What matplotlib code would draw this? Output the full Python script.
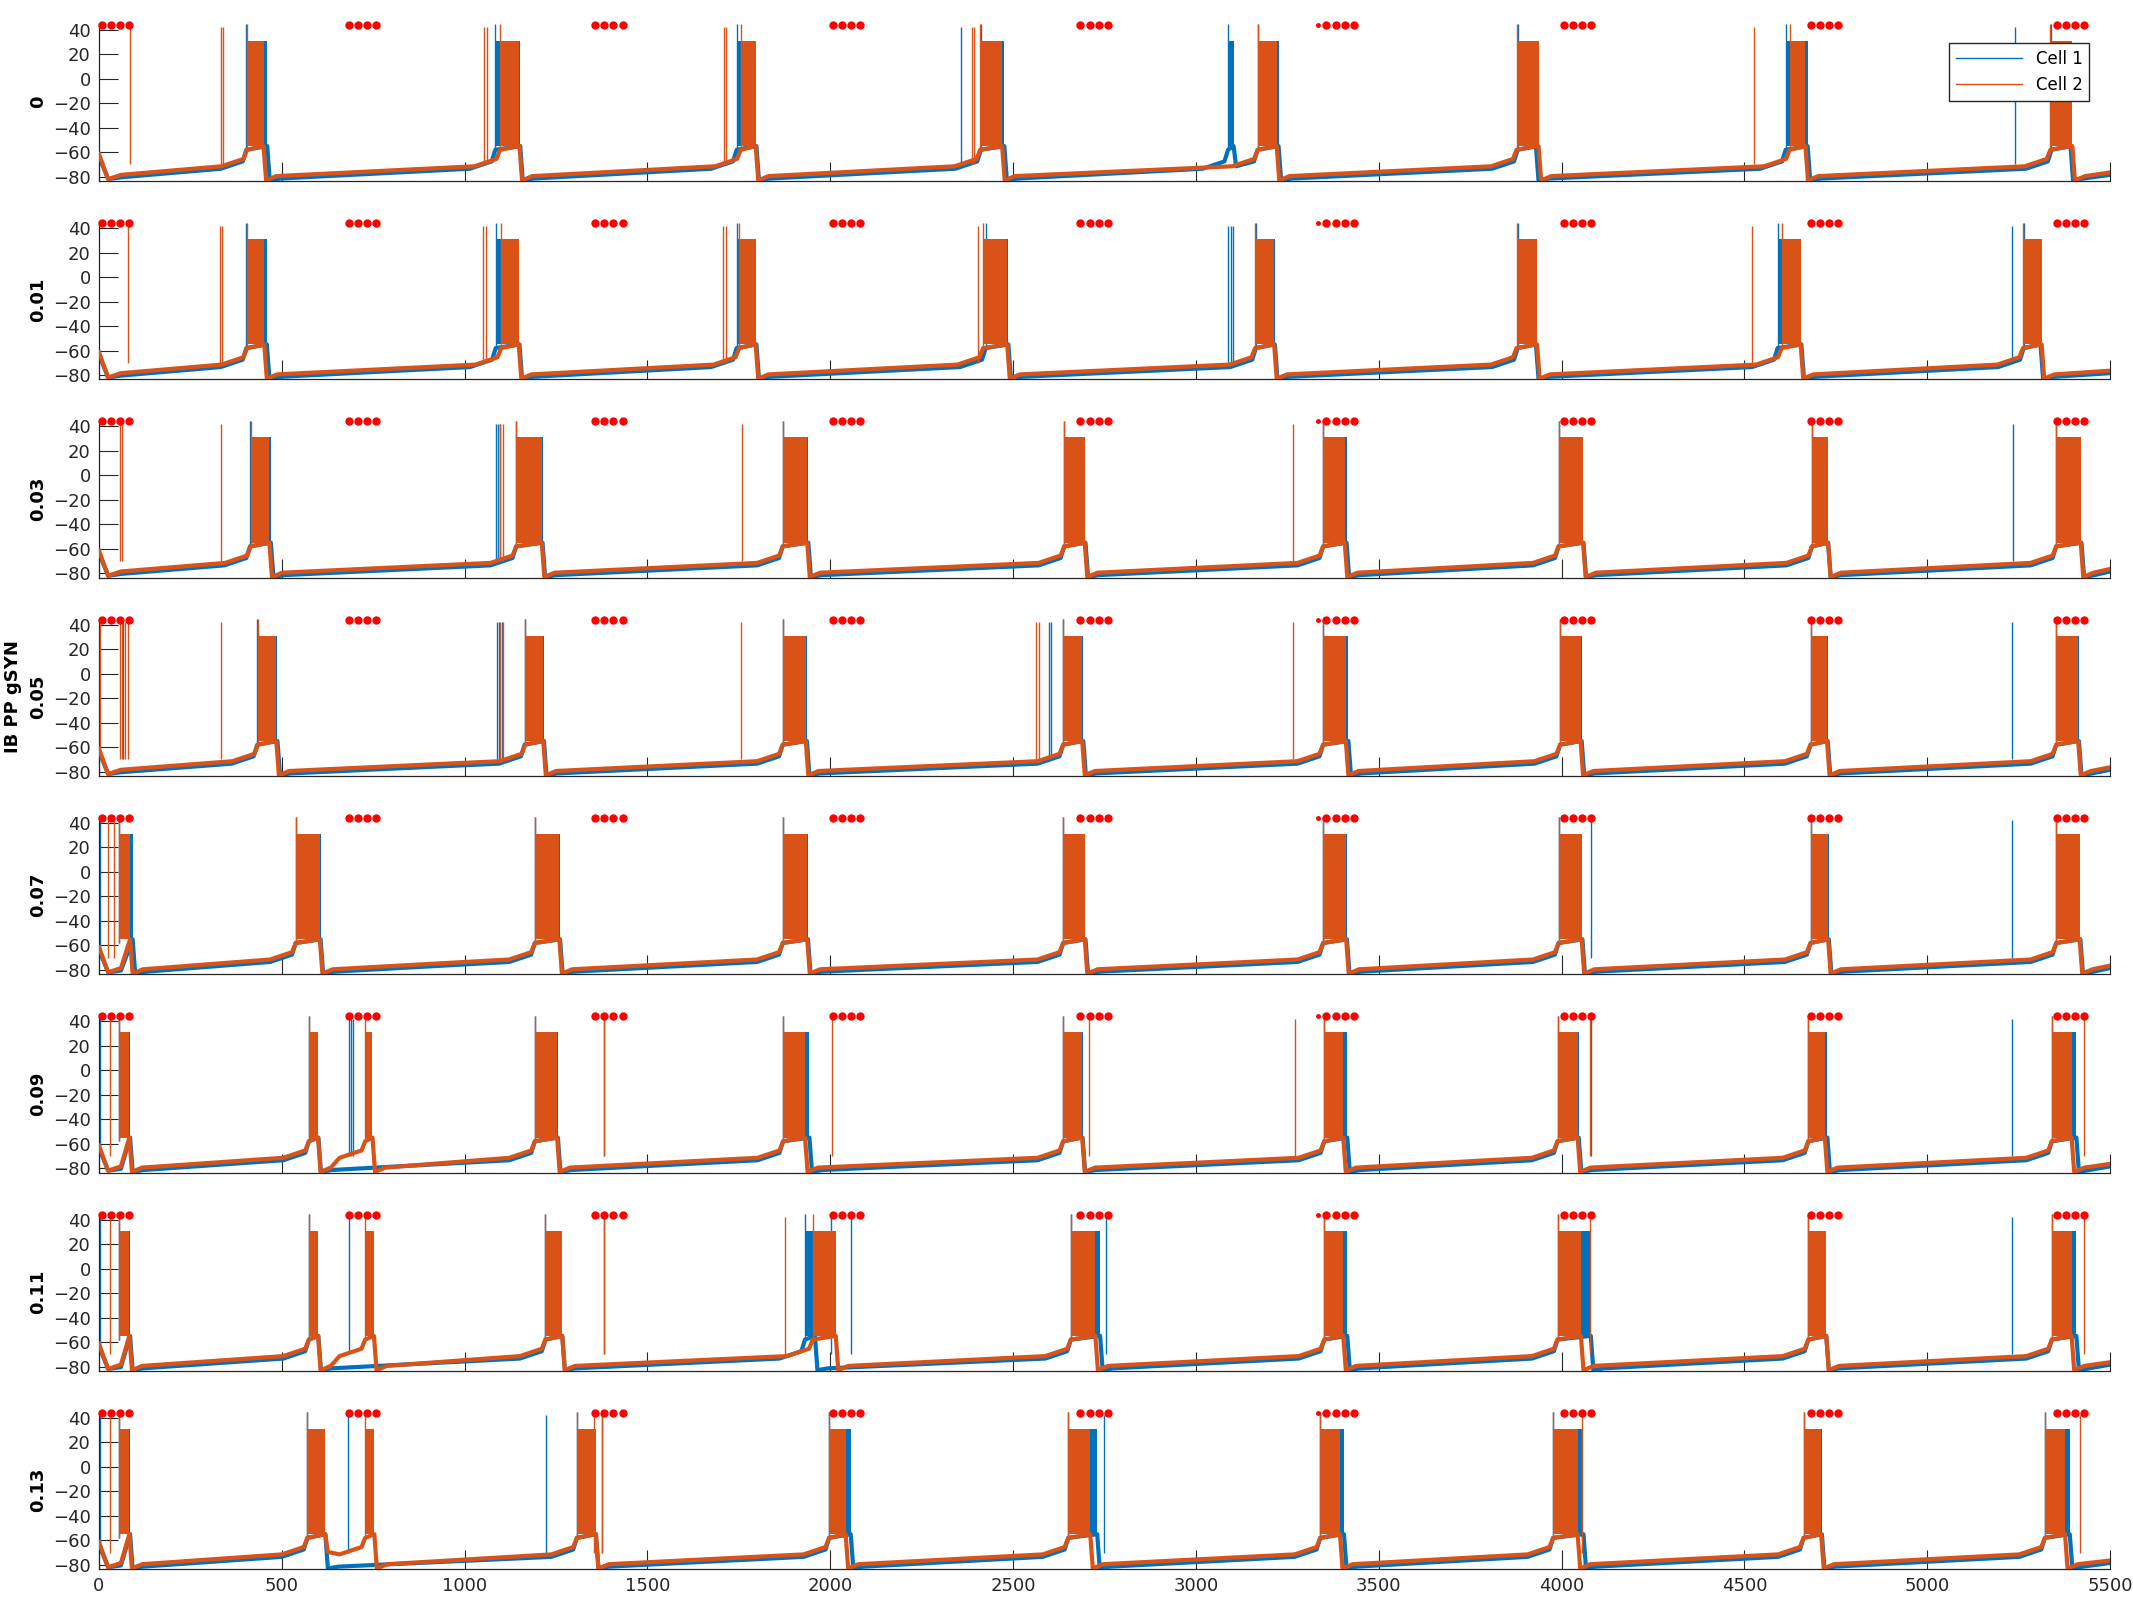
import matplotlib
matplotlib.use('Agg')

import matplotlib.pyplot as plt
from matplotlib.lines import Line2D

gsyn_labels = ['0', '0.01', '0.03', '0.05', '0.07', '0.09', '0.11', '0.13']

# stimulation pulses: first pulse of each train of four (ms)
stim_starts = [8, 683, 1357, 2007, 2684, 3357, 4006, 4681, 5354]
stim_offsets = [0, 25, 50, 75]
stim_extra = [3334]

# bursts as (start, end) in ms, one list per gSYN value
cell1_bursts = [
    [(403, 460), (1084, 1152), (1744, 1798), (2412, 2476), (3088, 3103), (3169, 3226),
     (3880, 3930), (4613, 4673), (5340, 5392)],
    [(403, 459), (1085, 1150), (1744, 1798), (2425, 2487), (3164, 3216),
     (3880, 3930), (4591, 4656), (5264, 5310)],
    [(413, 470), (1141, 1213), (1870, 1940), (2640, 2698), (3348, 3412),
     (3992, 4060), (4685, 4729), (5353, 5422)],
    [(433, 488), (1164, 1217), (1870, 1936), (2637, 2692), (3348, 3417),
     (3996, 4055), (4681, 4728), (5353, 5415)],
    [(55, 92), (538, 606), (1192, 1261), (1870, 1939), (2637, 2698), (3348, 3413),
     (3992, 4057), (4681, 4731), (5353, 5419)],
    [(55, 85), (574, 600), (1192, 1255), (1871, 1943), (2637, 2690),
     (3351, 3414), (3989, 4047), (4675, 4727), (5341, 5408)],
    [(55, 85), (574, 600), (1221, 1267), (1931, 1958), (2658, 2738),
     (3351, 3414), (3989, 4080), (4675, 4724), (5341, 5408)],
    [(55, 85), (570, 619), (1307, 1359), (1997, 2056), (2651, 2730), (3340, 3405),
     (3977, 4060), (4662, 4712), (5322, 5390)],
]
cell2_bursts = [
    [(405, 450), (1097, 1150), (1755, 1796), (2410, 2470), (3169, 3221), (3877, 3937),
     (4624, 4667), (5337, 5397)],
    [(405, 452), (1100, 1148), (1751, 1796), (2418, 2484), (3162, 3214), (3877, 3933),
     (4602, 4654), (5262, 5313)],
    [(415, 466), (1141, 1211), (1870, 1937), (2640, 2696), (3348, 3407), (3992, 4059),
     (4685, 4729), (5353, 5420)],
    [(435, 485), (1166, 1215), (1870, 1933), (2637, 2689), (3348, 3410), (3996, 4052),
     (4681, 4726), (5353, 5413)],
    [(55, 85), (538, 604), (1192, 1259), (1870, 1937), (2637, 2696), (3348, 3411),
     (3992, 4055), (4681, 4729), (5353, 5417)],
    [(55, 83), (574, 599), (728, 748), (1192, 1253), (1871, 1931), (2637, 2689),
     (3351, 3403), (3989, 4044), (4675, 4720), (5341, 5395)],
    [(55, 83), (574, 599), (728, 752), (1221, 1267), (1952, 2015), (2658, 2725),
     (3351, 3403), (3989, 4053), (4675, 4724), (5341, 5395)],
    [(55, 83), (570, 619), (728, 753), (1307, 1359), (1997, 2042), (2651, 2711),
     (3340, 3394), (3977, 4044), (4662, 4710), (5322, 5377)],
]

# isolated spikes (ms)
cell1_spikes = [
    [2358, 5239],
    [3088, 3095, 3102, 5232],
    [1086, 1092, 1098, 5236],
    [66, 1088, 1095, 1102, 2597, 2604, 5232],
    [3, 4081, 5232],
    [3, 685, 690, 694, 1381, 4080, 5232],
    [3, 685, 1381, 2002, 2056, 2755, 5232],
    [3, 682, 1223, 1377, 2748],
]
cell2_spikes = [
    [84, 333, 338, 1052, 1060, 1710, 1714, 2388, 2394, 4526],
    [79, 331, 337, 1051, 1058, 1707, 1714, 2405, 4521],
    [57, 64, 333, 1097, 1104, 1758, 3266],
    [3, 57, 63, 71, 80, 334, 1097, 1105, 1755, 2563, 2570, 3266],
    [25, 40],
    [30, 1381, 2006, 2707, 3271, 4078, 5428],
    [30, 1381, 1875, 4078, 5428],
    [30, 1354, 1377, 4055, 5417],
]

colors = ['#0072BD', '#D95319']
t_end = 5500


def baseline(bursts, shift):
    # resting potential path through burst onsets and offsets
    pts = [(0, -62 + shift), (25, -82), (60, -79 + shift)]
    for i, (s, e) in enumerate(bursts):
        nxt = bursts[i + 1][0] if i + 1 < len(bursts) else t_end + 500
        anchors = [(s - 70, -72 + shift), (s - 10, -66 + shift), (s, -58), (e, -55)]
        if nxt - e > 120:
            anchors += [(e + 7, -83), (e + 35, -80 + shift)]
        else:
            anchors += [(e + 7, -70 + shift)]
        for x, y in anchors:
            if x > pts[-1][0]:
                pts.append((x, y))
    if pts[-1][0] < t_end:
        pts.append((t_end, -77 + shift))
    return [p[0] for p in pts], [p[1] for p in pts]


fig = plt.figure(figsize=(21.33, 16), dpi=100)
W, H = 2133, 1600
left, right = 99, 2110
panel_h = 158

for k, lab in enumerate(gsyn_labels):
    bottom = 181 + k * 198.3
    ax = fig.add_axes([left / W, 1 - bottom / H, (right - left) / W, panel_h / H])
    for c, (bursts, spikes) in enumerate([(cell1_bursts[k], cell1_spikes[k]),
                                          (cell2_bursts[k], cell2_spikes[k])]):
        col = colors[c]
        shift = -1.5 if c == 0 else 0.5
        bx, by = baseline(bursts, shift)
        ax.plot(bx, by, color=col, lw=3.0, zorder=2 + c, solid_joinstyle='round')
        for s, e in bursts:
            ax.fill_between([s, e], -55, 31, color=col, lw=0, zorder=2 + c)
            ax.vlines([s], -58, 44.5, color=col, lw=1.0, zorder=2 + c)
        if spikes:
            ax.vlines(spikes, -70, 42, color=col, lw=1.0, zorder=2 + c)

    xs = [s + o for s in stim_starts for o in stim_offsets]
    ax.plot(xs, [44] * len(xs), 'o', color='red', ms=5, zorder=5, clip_on=False)
    ax.plot(stim_extra, [44] * len(stim_extra), 'o', color='red', ms=2.5,
            zorder=5, clip_on=False)

    ax.set_xlim(0, t_end)
    ax.set_ylim(-83.5, 45.5)
    ax.set_yticks([-80, -60, -40, -20, 0, 20, 40])
    ax.set_xticks(range(0, 5501, 500))
    ax.spines['top'].set_visible(False)
    ax.spines['right'].set_visible(False)
    for sp in ['left', 'bottom']:
        ax.spines[sp].set_color('#262626')
        ax.spines[sp].set_linewidth(0.9)
    ax.tick_params(direction='in', length=14, width=0.8, colors='#262626',
                   labelsize=13, pad=6)
    if k < len(gsyn_labels) - 1:
        ax.tick_params(labelbottom=False)

    yc = 1 - (bottom - panel_h / 2) / H
    if k == 3:
        fig.text(13 / W, yc, 'IB PP gSYN', rotation=90, ha='center', va='center',
                 fontweight='bold', fontsize=13)
        fig.text(38 / W, yc, '0.05', rotation=90, ha='center', va='center',
                 fontweight='bold', fontsize=13)
    else:
        fig.text(38 / W, yc, lab, rotation=90, ha='center', va='center',
                 fontweight='bold', fontsize=13)
    if k == 0:
        handles = [Line2D([], [], color=colors[0], lw=1.0),
                   Line2D([], [], color=colors[1], lw=1.0)]
        ax.legend(handles, ['Cell 1', 'Cell 2'], loc='upper right',
                  bbox_to_anchor=(0.9896, 0.873), borderaxespad=0,
                  fancybox=False, edgecolor='#262626', framealpha=1,
                  fontsize=12, handlelength=4)

fig.savefig('out.png', dpi=100)
